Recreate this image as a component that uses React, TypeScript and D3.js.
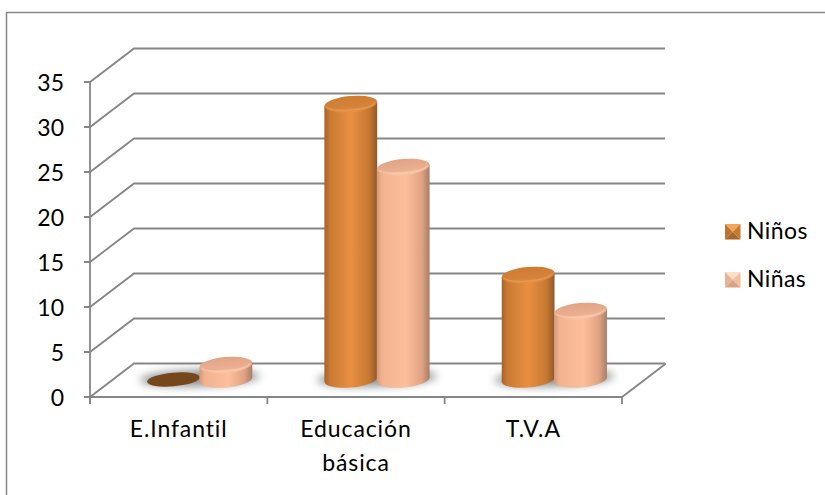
import React from "react";
import * as d3 from "d3";

const categories = ["E.Infantil", "Educación básica", "T.V.A"];
const ninos = [0, 31, 12];
const ninas = [2, 24, 8];
const ticks = [0, 5, 10, 15, 20, 25, 30, 35];
const seriesNames = ["Niños", "Niñas"];

const font = "Lato, 'Open Sans', sans-serif";
const grid = "#868686";
const W = 825, H = 495;
const dx = 44, dy = -33.5;

const yFront = d3.scaleLinear().domain([0, 35]).range([397, 82]);
const yBar = d3.scaleLinear().domain([0, 35]).range([383, 68]);
const xCat = d3.scaleBand<number>().domain([0, 1, 2]).range([90, 622]);
const rx = 26.5, ry = 8, tilt = -5;

function Grad({ id, stops }: { id: string; stops: [number, string][] }) {
  return (
    <linearGradient id={id} x1="0" x2="1" y1="0" y2="0">
      {stops.map(([o, c]) => <stop key={o} offset={o} stopColor={c} />)}
    </linearGradient>
  );
}

function Cyl({ cx, v, body, top, dark, rim }: { cx: number; v: number; body: string; top: string; dark: string; rim: string }) {
  const yTop = yBar(v), yBase = yBar(0) - 3.5;
  if (v === 0) {
    return <ellipse cx={cx} cy={yBase} rx={rx} ry={6.8} fill={dark} transform={`rotate(${tilt} ${cx} ${yBase})`} />;
  }
  const p = Math.cos((tilt * Math.PI) / 180) * rx;
  const q = Math.sin((tilt * Math.PI) / 180) * rx;
  const d = `M${cx - p},${yTop - q} L${cx - p},${yBase - q} A${rx},${ry} ${tilt} 0 0 ${cx + p},${yBase + q} L${cx + p},${yTop + q} Z`;
  return (
    <g>
      <path d={d} fill={`url(#${body})`} />
      <ellipse cx={cx} cy={yTop} rx={rx} ry={ry} fill={`url(#${top})`} transform={`rotate(${tilt} ${cx} ${yTop})`} />
      <path d={`M${cx - p + 2},${yTop - q + 1} A${rx},${ry} ${tilt} 0 0 ${cx + p - 2},${yTop + q + 1}`} fill="none" stroke={rim} strokeWidth={1.2} opacity={0.6} />
    </g>
  );
}

function Marker({ x, y, c }: { x: number; y: number; c: string[] }) {
  const s = 15.5, m = s / 2, b = 0;
  return (
    <g transform={`translate(${x},${y})`}>
      <polygon points={`${b},${b} ${s},${b} ${m},${m}`} fill={c[0]} />
      <polygon points={`${s},${b} ${s},${s} ${m},${m}`} fill={c[1]} />
      <polygon points={`${s},${s} ${b},${s} ${m},${m}`} fill={c[2]} />
      <polygon points={`${b},${s} ${b},${b} ${m},${m}`} fill={c[3]} />
    </g>
  );
}

export default function App() {
  const bw = xCat.bandwidth();
  const centers = categories.map((_, i) => (xCat(i) as number) + bw / 2 + 21);
  const offset = 26.2;
  const labelLines = categories.map((c) => (c.includes(" ") ? c.split(" ") : [c]));
  return (
    <svg width={W} height={H} style={{ position: "absolute", left: 0, top: 0, background: "#fff" }}>
      <defs>
        <Grad id="bodyA" stops={[[0, "#a9601f"], [0.1, "#c87a33"], [0.5, "#e98f42"], [0.85, "#c67831"], [1, "#8f5a2c"]]} />
        <Grad id="bodyB" stops={[[0, "#d39a78"], [0.1, "#f2b28f"], [0.55, "#fdbf9b"], [0.85, "#e0a282"], [1, "#a67f68"]]} />
        <linearGradient id="topA" x1="0" x2="0" y1="0" y2="1">
          <stop offset="0" stopColor="#cf7c33" /><stop offset="0.7" stopColor="#d5823a" /><stop offset="1" stopColor="#e6944a" />
        </linearGradient>
        <linearGradient id="topB" x1="0" x2="0" y1="0" y2="1">
          <stop offset="0" stopColor="#e0a485" /><stop offset="0.7" stopColor="#ecae90" /><stop offset="1" stopColor="#fac7a8" />
        </linearGradient>
        <filter id="blur" x="-30%" y="-60%" width="160%" height="220%"><feGaussianBlur stdDeviation="4" /></filter>
      </defs>

      <path d={`M6.5,${H} V12.5 H${W}`} fill="none" stroke={grid} strokeWidth={1.5} />

      {ticks.map((t) => {
        const y = yFront(t);
        return (
          <g key={t}>
            <path d={`M84,${y} H90 L${90 + dx},${y + dy} H${622 + dx - 1}`} fill="none" stroke={grid} strokeWidth={1.8} />
            <text x={64} y={y + 8.5} textAnchor="end" fontFamily={font} fontSize={23} fill="#000">{t}</text>
          </g>
        );
      })}
      <path d={`M90,${yFront(35)} V404`} stroke={grid} strokeWidth={1.8} fill="none" />
      <path d={`M84,397 H622 L${622 + dx},${397 + dy}`} stroke={grid} strokeWidth={1.8} fill="none" />
      {[0, 1, 2, 3].map((i) => {
        const x = i < 3 ? (xCat(i) as number) : 622;
        return <path key={i} d={`M${x},397 V404`} stroke={grid} strokeWidth={1.8} />;
      })}

      {categories.map((c, i) => (
        <ellipse key={c} cx={centers[i]} cy={378} rx={60} ry={8} fill="#6f7478" opacity={0.8} filter="url(#blur)" transform={`rotate(-2 ${centers[i]} 378)`} />
      ))}

      {categories.map((c, i) => (
        <g key={c}>
          <Cyl cx={centers[i] - offset} v={ninos[i]} body="bodyA" top="topA" dark="#77471c" rim="#f0a45c" />
          <Cyl cx={centers[i] + offset} v={ninas[i]} body="bodyB" top="topB" dark="#d39a78" rim="#fdd6bd" />
        </g>
      ))}

      {labelLines.map((lines, i) => (
        <g key={i}>
          {lines.map((l, j) => (
            <text key={l} x={(xCat(i) as number) + bw / 2} y={437 + j * 34} textAnchor="middle" fontFamily={font} fontSize={23} letterSpacing={0.9} fill="#000">{l}</text>
          ))}
        </g>
      ))}

      {seriesNames.map((s, i) => {
        const y = 224 + i * 48;
        const c = i === 0 ? ["#f0a655", "#c47a33", "#a8662b", "#bd7530"] : ["#fde0c8", "#f0bfa0", "#d9a284", "#e6b496"];
        return (
          <g key={s}>
            <Marker x={725} y={y} c={c} />
            <text x={747} y={y + 15} fontFamily={font} fontSize={23} letterSpacing={0.4} fill="#000">{s}</text>
          </g>
        );
      })}
    </svg>
  );
}
